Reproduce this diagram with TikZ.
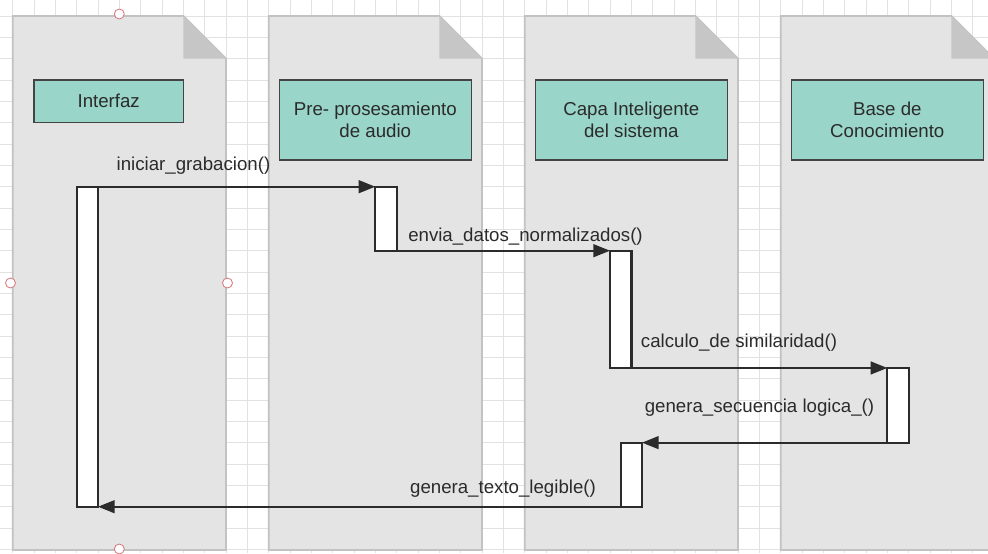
\documentclass[tikz,border=0pt]{standalone}
\usepackage{fontspec}
\setmainfont{Liberation Sans}
\usetikzlibrary{arrows.meta}

\definecolor{gridline}{HTML}{E2E2E2}
\definecolor{docfill}{HTML}{E4E4E4}
\definecolor{docedge}{HTML}{C2C2C2}
\definecolor{docfold}{HTML}{C6C6C6}
\definecolor{lifebox}{HTML}{99D5C9}
\definecolor{boxedge}{HTML}{444444}
\definecolor{ink}{HTML}{2B2B2B}
\definecolor{handle}{HTML}{D9737A}

\tikzset{
  lane/.style={fill=docfill, draw=docedge, line width=1.3pt},
  fold/.style={fill=docfold},
  header/.style={draw=boxedge, fill=lifebox, line width=1.1pt, text=ink,
    align=center, inner sep=0pt, minimum width=144pt, minimum height=60pt},
  activation/.style={draw=ink, fill=white, line width=1.7pt, inner sep=0pt,
    outer sep=0pt, minimum width=16pt},
  msg/.style={draw=ink, line width=1.7pt,
    -{Triangle[length=12.5pt, width=9.5pt]}},
  msglabel/.style={text=ink, anchor=base, inner sep=0pt},
  selhandle/.style={draw=handle, fill=white, line width=0.6pt, circle,
    inner sep=0pt, minimum size=7.5pt},
}

\begin{document}
\begin{tikzpicture}[x=0.75pt, y=-0.75pt, font=\fontsize{14}{16.5}\selectfont]
  \useasboundingbox (0,0) rectangle (988,553);
  \clip (0,0) rectangle (988,553);

  % background grid
  \fill[white] (0,0) rectangle (988,553);
  \foreach \i in {0,...,46}
    \draw[gridline, line width=0.6pt] ({12.7+21.333*\i},0) -- ++(0,553);
  \foreach \j in {-1,...,25}
    \draw[gridline, line width=0.6pt] (0,{16+21.333*\j}) -- ++(988,0);

  % lifeline lanes drawn as folded documents
  \foreach \x in {12.7, 268.7, 524.7, 780.7} {
    \path[lane] (\x,16) -- ({\x+170.6},16) -- ({\x+213.3},58.7)
      -- ({\x+213.3},550) -- (\x,550) -- cycle;
    \fill[fold] ({\x+170.6},16) -- ({\x+213.3},58.7) -- ({\x+170.6},58.7) -- cycle;
  }

  % lifeline headers
  \node[header, minimum width=112pt, minimum height=32pt] (ifz) at (108.7,101.3) {Interfaz};
  \node[header] (pre)  at (375.3,120) {Pre- prosesamiento\\de audio};
  \node[header] (capa) at (631.3,120) {Capa Inteligente\\del sistema};
  \node[header] (base) at (887.3,120) {Base de\\Conocimiento};

  % activation bars
  \node[activation, minimum height=240pt] (b1) at (87.3,346.7) {};
  \node[activation, minimum height=48pt]  (b2) at (386,218.7) {};
  \node[activation, minimum height=88pt]  (b3) at (620.7,309.3) {};
  \node[activation, minimum height=56pt]  (b4) at (898,405.3) {};
  \node[activation, minimum height=48pt]  (b5) at (631.3,474.7) {};

  % messages, kept horizontal along the bar edges
  \draw[msg] (b1.north east) -- (b1.north east -| b2.west);
  \draw[msg] (b2.south east) -- (b2.south east -| b3.west);
  \draw[msg] (b3.south east) -- (b3.south east -| b4.west);
  \draw[msg] (b4.south west) -- (b4.south west -| b5.east);
  \draw[msg] (b5.south west) -- (b5.south west -| b1.east);

  % message labels
  \node[msglabel] (m1) at (193.5,170) {iniciar\_grabacion()};
  \node[msglabel] (m2) at (525.5,241) {envia\_datos\_normalizados()};
  \node[msglabel] (m3) at (739,347) {calculo\_de similaridad()};
  \node[msglabel] (m4) at (759.5,412) {genera\_secuencia logica\_()};
  \node[msglabel] (m5) at (503,493) {genera\_texto\_legible()};

  % selection handles of the first lane
  \node[selhandle] (h1) at (119.3,14) {};
  \node[selhandle] (h2) at (10.5,283) {};
  \node[selhandle] (h3) at (227.5,283) {};
  \node[selhandle] (h4) at (119.3,549) {};
\end{tikzpicture}
\end{document}
